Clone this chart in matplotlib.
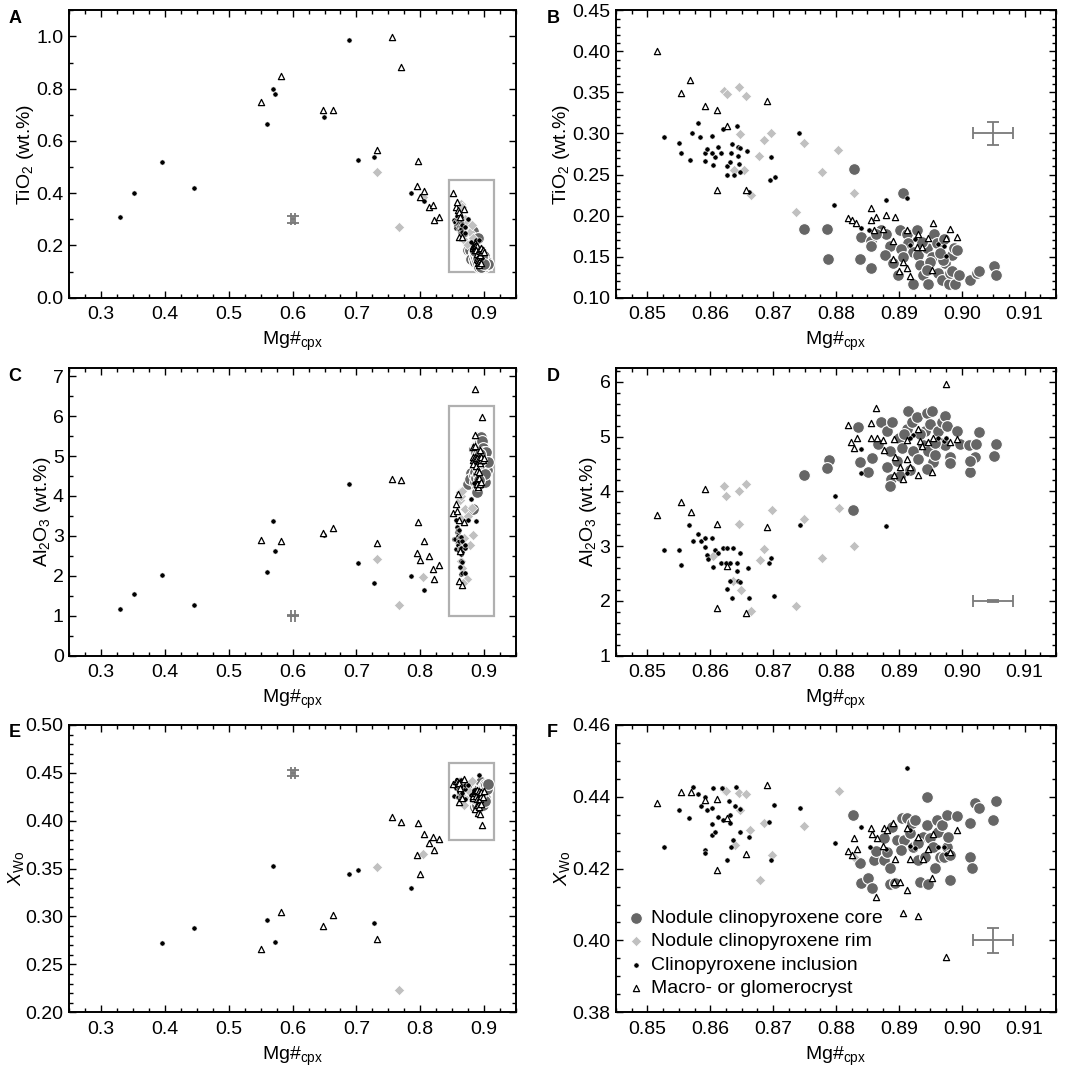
import numpy as np
import matplotlib
matplotlib.use("Agg")
import matplotlib.pyplot as plt
from matplotlib.ticker import MultipleLocator, FormatStrFormatter

plt.rcParams['font.family'] = ['Liberation Sans', 'DejaVu Sans']
plt.rcParams['mathtext.fontset'] = 'custom'
plt.rcParams['mathtext.rm'] = 'Liberation Sans'
plt.rcParams['mathtext.it'] = 'Liberation Sans:italic'
plt.rcParams['font.size'] = 14

nan = np.nan

# ---- low Mg# samples (only in A, C, E) ----
incl_mg = [0.329, 0.351, 0.395, 0.445, 0.560, 0.570, 0.573, 0.649, 0.689, 0.703, 0.728, 0.786, 0.806]
incl_ti = [0.308, 0.402, 0.521, 0.421, 0.665, 0.797, 0.778, 0.693, 0.985, 0.526, 0.540, 0.400, 0.370]
incl_al = [1.16, 1.55, 2.01, 1.27, 2.09, 3.38, 2.62, 3.03, 4.31, 2.32, 1.81, 2.00, 1.64]
incl_wo = [nan, nan, 0.272, 0.288, 0.296, 0.353, 0.273, nan, 0.344, 0.349, 0.293, 0.330, nan]

macro_mg = [0.551, 0.581, 0.648, 0.663, 0.755, 0.770, 0.732, 0.796, 0.795, 0.806, 0.800, 0.813, 0.820, 0.822, 0.830]
macro_ti = [0.748, 0.849, 0.719, 0.719, 0.997, 0.882, 0.567, 0.522, 0.427, 0.409, 0.384, 0.347, 0.356, 0.296, 0.309]
macro_al = [2.89, 2.88, 3.08, 3.19, 4.43, 4.39, 2.83, 3.35, 2.58, 2.88, 2.40, 2.50, 2.17, 1.91, 2.27]
macro_wo = [0.266, 0.305, 0.290, 0.302, 0.404, 0.399, 0.277, 0.398, 0.364, 0.386, 0.344, 0.377, 0.383, 0.369, 0.381]

rim_mg = [0.732, 0.766, 0.804]
rim_ti = [0.483, 0.269, 0.385]
rim_al = [2.42, 1.27, 1.97]
rim_wo = [0.352, 0.223, 0.365]

# macrocryst above the D window, shown only in C
macro_hi_mg = [0.886]
macro_hi_al = [6.69]

# ---- high Mg# samples: TiO2 (B) ----
core_mg_ti = [0.8828, 0.8749, 0.8786, 0.8788, 0.8838, 0.8856, 0.8906, 0.8839, 0.8855, 0.8855,
              0.8871, 0.8880, 0.8886, 0.8878, 0.8891, 0.8899, 0.8901, 0.8913, 0.8929, 0.8915,
              0.8923, 0.8931, 0.8934, 0.8922, 0.8939, 0.8945, 0.8953, 0.8950, 0.8956, 0.8960,
              0.8963, 0.8969, 0.8971, 0.8974, 0.8980, 0.8981, 0.8984, 0.8987, 0.8992, 0.8985,
              0.8989, 0.9013, 0.9025, 0.9028, 0.9051, 0.9055, 0.8937, 0.8903, 0.8906, 0.8945,
              0.8970, 0.8864, 0.8966, 0.8946, 0.8995]
core_ti = [0.257, 0.184, 0.184, 0.147, 0.147, 0.136, 0.228, 0.174, 0.169, 0.163,
           0.182, 0.178, 0.163, 0.152, 0.142, 0.128, 0.182, 0.178, 0.182, 0.166,
           0.156, 0.152, 0.140, 0.117, 0.128, 0.160, 0.150, 0.144, 0.178, 0.166,
           0.130, 0.121, 0.172, 0.142, 0.117, 0.130, 0.152, 0.160, 0.158, 0.132,
           0.117, 0.121, 0.130, 0.132, 0.138, 0.128, 0.168, 0.159, 0.150, 0.134,
           0.146, 0.178, 0.155, 0.117, 0.128]

rim_mg_ti = [0.8622, 0.8626, 0.8646, 0.8656, 0.8647, 0.8685, 0.8697, 0.8678, 0.8749, 0.8777,
             0.8803, 0.8737, 0.8664, 0.8829, 0.8637, 0.8653]
rim_ti2 = [0.352, 0.348, 0.357, 0.346, 0.299, 0.292, 0.301, 0.272, 0.289, 0.253,
           0.280, 0.204, 0.225, 0.228, 0.255, 0.255]

incl_mg_ti = [0.8526, 0.8550, 0.8554, 0.8567, 0.8571, 0.8580, 0.8584, 0.8591, 0.8592, 0.8595,
              0.8603, 0.8604, 0.8607, 0.8603, 0.8612, 0.8617, 0.8620, 0.8627, 0.8626, 0.8631,
              0.8633, 0.8635, 0.8637, 0.8643, 0.8644, 0.8644, 0.8645, 0.8648, 0.8647, 0.8659,
              0.8661, 0.8695, 0.8697, 0.8703, 0.8741, 0.8797, 0.8879, 0.8913, 0.8840, 0.8853,
              0.8918, 0.8926, 0.8963, 0.8971, 0.8975]
incl_ti2 = [0.296, 0.289, 0.276, 0.268, 0.301, 0.313, 0.296, 0.276, 0.267, 0.281,
            0.297, 0.261, 0.271, 0.276, 0.284, 0.276, 0.305, 0.250, 0.260, 0.265,
            0.276, 0.287, 0.250, 0.309, 0.284, 0.272, 0.263, 0.253, 0.282, 0.279,
            0.229, 0.243, 0.271, 0.247, 0.301, 0.213, 0.219, 0.222, 0.185, 0.183,
            0.164, 0.171, 0.165, 0.163, 0.151]

macro_mg_ti = [0.8515, 0.8554, 0.8568, 0.8591, 0.8611, 0.8626, 0.8611, 0.8656, 0.8690, 0.8855,
               0.8819, 0.8826, 0.8832, 0.8855, 0.8864, 0.8879, 0.8894, 0.8860, 0.8875, 0.8913,
               0.8891, 0.8890, 0.8907, 0.8900, 0.8913, 0.8917, 0.8931, 0.8929, 0.8937, 0.8947,
               0.8954, 0.8953, 0.8975, 0.8982, 0.8993]
macro_ti2 = [0.400, 0.349, 0.365, 0.334, 0.329, 0.309, 0.231, 0.231, 0.339, 0.209,
             0.197, 0.194, 0.191, 0.194, 0.198, 0.201, 0.198, 0.182, 0.184, 0.182,
             0.169, 0.147, 0.144, 0.132, 0.136, 0.126, 0.178, 0.162, 0.162, 0.173,
             0.191, 0.134, 0.173, 0.184, 0.174]

# ---- high Mg# samples: Al2O3 (D) ----
core_mg_al = [0.8827, 0.8749, 0.8789, 0.8786, 0.8835, 0.8838, 0.8851, 0.8857, 0.8872, 0.8881,
              0.8886, 0.8881, 0.8889, 0.8888, 0.8886, 0.8900, 0.8897, 0.8905, 0.8902, 0.8913,
              0.8915, 0.8921, 0.8923, 0.8929, 0.8931, 0.8938, 0.8942, 0.8944, 0.8947, 0.8950,
              0.8952, 0.8955, 0.8944, 0.8957, 0.8963, 0.8965, 0.8968, 0.8973, 0.8973, 0.8977,
              0.8981, 0.8982, 0.8992, 0.8997, 0.9012, 0.9013, 0.9021, 0.9028, 0.9023, 0.9051,
              0.9054, 0.9013, 0.8957, 0.8867, 0.8918, 0.8908, 0.8934]
core_al = [3.66, 4.30, 4.57, 4.42, 5.18, 4.53, 4.36, 4.61, 5.26, 5.11,
           4.74, 4.45, 5.26, 4.22, 4.10, 4.98, 4.56, 4.80, 4.28, 5.14,
           5.47, 5.26, 4.74, 5.36, 4.59, 4.85, 5.11, 5.44, 4.74, 5.23,
           5.47, 4.53, 4.41, 4.67, 5.11, 4.89, 5.26, 5.38, 4.85, 5.20,
           4.62, 4.51, 5.11, 4.86, 4.84, 4.36, 4.62, 5.09, 4.86, 4.65,
           4.86, 4.56, 4.89, 4.86, 4.39, 5.04, 5.04]

rim_mg_al = [0.8621, 0.8625, 0.8645, 0.8656, 0.8646, 0.8679, 0.8685, 0.8698, 0.8749, 0.8777,
             0.8804, 0.8736, 0.8664, 0.8828, 0.8649, 0.8604, 0.8636]
rim_al2 = [4.10, 3.91, 4.01, 4.13, 3.41, 2.75, 2.95, 3.66, 3.49, 2.78,
           3.69, 1.91, 1.82, 3.01, 2.20, 2.81, 2.37]

incl_mg_al = [0.8526, 0.8550, 0.8554, 0.8566, 0.8572, 0.8581, 0.8585, 0.8591, 0.8592, 0.8595,
              0.8603, 0.8604, 0.8607, 0.8596, 0.8612, 0.8617, 0.8620, 0.8627, 0.8625, 0.8631,
              0.8632, 0.8634, 0.8636, 0.8642, 0.8643, 0.8644, 0.8647, 0.8647, 0.8627, 0.8660,
              0.8661, 0.8694, 0.8697, 0.8702, 0.8742, 0.8798, 0.8879, 0.8840, 0.8840, 0.8913,
              0.8923, 0.8918, 0.8963, 0.8971, 0.8975]
incl_al2 = [2.93, 2.92, 2.66, 3.39, 3.09, 3.22, 3.09, 2.99, 3.15, 2.84,
            3.15, 2.61, 2.93, 2.76, 2.87, 2.70, 2.96, 2.96, 2.70, 2.36,
            2.70, 2.05, 2.96, 2.70, 2.54, 2.37, 2.87, 2.34, 2.22, 2.60,
            2.06, 2.69, 2.78, 2.08, 3.39, 3.92, 3.37, 4.77, 4.33, 4.33,
            5.03, 4.97, 4.97, 4.92, 4.98]

macro_mg_al = [0.8515, 0.8554, 0.8569, 0.8591, 0.8611, 0.8611, 0.8626, 0.8656, 0.8690, 0.8975,
               0.8863, 0.8819, 0.8856, 0.8824, 0.8834, 0.8829, 0.8855, 0.8865, 0.8875, 0.8876,
               0.8893, 0.8894, 0.8892, 0.8901, 0.8907, 0.8913, 0.8917, 0.8913, 0.8931, 0.8933,
               0.8936, 0.8930, 0.8952, 0.8947, 0.8954, 0.8982, 0.8993]
macro_al2 = [3.56, 3.80, 3.63, 4.04, 3.40, 1.87, 2.63, 1.78, 3.34, 5.97,
             5.53, 5.22, 5.25, 4.91, 4.97, 4.79, 4.97, 4.97, 4.94, 4.76,
             4.95, 4.62, 4.30, 4.45, 4.22, 4.59, 4.45, 4.94, 5.14, 4.92,
             4.83, 4.30, 4.36, 4.91, 4.97, 4.91, 4.95]

# ---- high Mg# samples: X_Wo (F) ----
core_mg_wo = [0.8827, 0.8838, 0.8839, 0.8851, 0.8857, 0.8860, 0.8863, 0.8876, 0.8876, 0.8881,
              0.8886, 0.8886, 0.8889, 0.8894, 0.8897, 0.8905, 0.8908, 0.8913, 0.8918, 0.8921,
              0.8923, 0.8926, 0.8931, 0.8934, 0.8939, 0.8942, 0.8944, 0.8944, 0.8947, 0.8950,
              0.8955, 0.8957, 0.8960, 0.8963, 0.8965, 0.8968, 0.8971, 0.8976, 0.8976, 0.8978,
              0.8981, 0.8981, 0.8993, 0.9013, 0.9013, 0.9016, 0.9021, 0.9028, 0.9050, 0.9054,
              0.8903, 0.8931]
core_wo = [0.4349, 0.4215, 0.4159, 0.4173, 0.4145, 0.4224, 0.4250, 0.4224, 0.4284, 0.4247,
           0.4201, 0.4157, 0.4317, 0.4159, 0.4280, 0.4340, 0.4280, 0.4340, 0.4298, 0.4326,
           0.4261, 0.4336, 0.4224, 0.4164, 0.4289, 0.4233, 0.4400, 0.4322, 0.4157, 0.4284,
           0.4261, 0.4201, 0.4336, 0.4303, 0.4233, 0.4322, 0.4233, 0.4349, 0.4261, 0.4289,
           0.4168, 0.4238, 0.4347, 0.4326, 0.4233, 0.4201, 0.4382, 0.4368, 0.4336, 0.4387,
           0.4252, 0.4270]

rim_mg_wo = [0.8622, 0.8625, 0.8645, 0.8656, 0.8648, 0.8663, 0.8685, 0.8698, 0.8749, 0.8679,
             0.8804, 0.8639, 0.8828]
rim_wo2 = [0.4419, 0.4417, 0.4410, 0.4408, 0.4363, 0.4308, 0.4326, 0.4238, 0.4319, 0.4168,
           0.4417, 0.4266, 0.4232]

incl_mg_wo = [0.8526, 0.8550, 0.8566, 0.8572, 0.8581, 0.8585, 0.8591, 0.8592, 0.8592, 0.8595,
              0.8603, 0.8604, 0.8603, 0.8603, 0.8607, 0.8612, 0.8618, 0.8620, 0.8626, 0.8629,
              0.8631, 0.8632, 0.8633, 0.8636, 0.8639, 0.8641, 0.8647, 0.8648, 0.8661, 0.8694,
              0.8697, 0.8702, 0.8742, 0.8798, 0.8840, 0.8854, 0.8879, 0.8913, 0.8918, 0.8917,
              0.8925, 0.8963, 0.8971, 0.8975]
incl_wo2 = [0.4261, 0.4363, 0.4340, 0.4426, 0.4408, 0.4373, 0.4399, 0.4252, 0.4243, 0.4363,
            0.4368, 0.4424, 0.4323, 0.4294, 0.4303, 0.4343, 0.4424, 0.4336, 0.4224, 0.4389,
            0.4349, 0.4326, 0.4261, 0.4280, 0.4373, 0.4426, 0.4303, 0.4365, 0.4289, 0.4329,
            0.4224, 0.4377, 0.4370, 0.4271, 0.4317, 0.4261, 0.4254, 0.4481, 0.4308, 0.4263,
            0.4257, 0.4261, 0.4261, 0.4241]

macro_mg_wo = [0.8515, 0.8554, 0.8569, 0.8591, 0.8611, 0.8611, 0.8626, 0.8656, 0.8690, 0.8819,
               0.8825, 0.8829, 0.8834, 0.8855, 0.8857, 0.8865, 0.8863, 0.8875, 0.8876, 0.8881,
               0.8891, 0.8892, 0.8894, 0.8901, 0.8907, 0.8913, 0.8913, 0.8917, 0.8930, 0.8931,
               0.8938, 0.8947, 0.8952, 0.8955, 0.8975, 0.8982, 0.8993]
macro_wo2 = [0.4382, 0.4412, 0.4414, 0.4391, 0.4394, 0.4196, 0.4340, 0.4240, 0.4433, 0.4249,
             0.4238, 0.4286, 0.4254, 0.4312, 0.4296, 0.4286, 0.4122, 0.4263, 0.4312, 0.4308,
             0.4326, 0.4164, 0.4226, 0.4164, 0.4076, 0.4141, 0.4312, 0.4226, 0.4068, 0.4289,
             0.4226, 0.4254, 0.4175, 0.4296, 0.3955, 0.4247, 0.4308]

# analytical uncertainty shown as a cross
err_mg = 0.0032
err_ti = 0.0137
err_al = 0.015
err_wo = 0.0034

labels = ['Nodule clinopyroxene core', 'Nodule clinopyroxene rim',
          'Clinopyroxene inclusion', 'Macro- or glomerocryst']

CORE = '#666666'
RIM = '#c0c0c0'
ERR = '#7a7a7a'
BOX = '#b0b0b0'


def scatter_groups(ax, core, rim, incl, macro):
    ax.scatter(core[0], core[1], s=72, c=CORE, edgecolors='white', linewidths=0.8, zorder=2, label=labels[0])
    ax.scatter(rim[0], rim[1], s=28, marker='D', c=RIM, edgecolors='white', linewidths=0.5, zorder=3, label=labels[1])
    ax.scatter(incl[0], incl[1], s=14, c='black', edgecolors='white', linewidths=0.4, zorder=4, label=labels[2])
    ax.scatter(macro[0], macro[1], s=20, marker='^', facecolors='white', edgecolors='black', linewidths=0.9, zorder=5, label=labels[3])


def style(ax, xlim, ylim, xmaj, xmin, ymaj, ymin, xfmt, yfmt, ylabel):
    ax.set_xlim(xlim)
    ax.set_ylim(ylim)
    ax.xaxis.set_major_locator(MultipleLocator(xmaj))
    ax.xaxis.set_minor_locator(MultipleLocator(xmin))
    ax.yaxis.set_major_locator(MultipleLocator(ymaj))
    ax.yaxis.set_minor_locator(MultipleLocator(ymin))
    ax.xaxis.set_major_formatter(FormatStrFormatter(xfmt))
    ax.yaxis.set_major_formatter(FormatStrFormatter(yfmt))
    ax.tick_params(which='both', direction='in', top=True, right=True, width=1.0, labelsize=14)
    ax.tick_params(which='major', length=5)
    ax.tick_params(which='minor', length=3)
    ax.tick_params(axis='x', which='major', pad=6)
    ax.tick_params(axis='y', which='major', pad=4)
    for sp in ax.spines.values():
        sp.set_linewidth(1.4)
    ax.set_xlabel(r'Mg#$_\mathregular{cpx}$', fontsize=14, labelpad=5)
    ax.set_ylabel(ylabel, fontsize=14, labelpad=0)


def error_cross(ax, x, y, yerr):
    ax.errorbar([x], [y], xerr=err_mg, yerr=yerr, fmt='none', ecolor=ERR, elinewidth=1.3,
                capsize=4.5, capthick=1.3, zorder=6)


def zoom_box(ax, y0, y1):
    ax.add_patch(plt.Rectangle((0.845, y0), 0.07, y1 - y0, fill=False, edgecolor=BOX, linewidth=1.6, zorder=1))


fig = plt.figure(figsize=(10.84, 10.68), dpi=100)
lx, lw = 0.0639, 0.4121
rx, rw = 0.5683, 0.4059
rows = [0.7213, 0.3862, 0.0522]
h = 0.269

axA = fig.add_axes([lx, rows[0], lw, h])
axB = fig.add_axes([rx, rows[0], rw, h])
axC = fig.add_axes([lx, rows[1], lw, h])
axD = fig.add_axes([rx, rows[1], rw, h])
axE = fig.add_axes([lx, rows[2], lw, h])
axF = fig.add_axes([rx, rows[2], rw, h])

ti_lab = r'TiO$_\mathregular{2}$ (wt.%)'
al_lab = r'Al$_\mathregular{2}$O$_\mathregular{3}$ (wt.%)'
wo_lab = r'$\mathit{X}_\mathregular{Wo}$'

# A
scatter_groups(axA, (core_mg_ti, core_ti), (rim_mg + rim_mg_ti, rim_ti + rim_ti2),
               (incl_mg + incl_mg_ti, incl_ti + incl_ti2), (macro_mg + macro_mg_ti, macro_ti + macro_ti2))
zoom_box(axA, 0.10, 0.45)
error_cross(axA, 0.60, 0.30, err_ti)
style(axA, (0.25, 0.95), (0.0, 1.1), 0.1, 0.025, 0.2, 0.1, '%.1f', '%.1f', ti_lab)

# B
scatter_groups(axB, (core_mg_ti, core_ti), (rim_mg_ti, rim_ti2), (incl_mg_ti, incl_ti2), (macro_mg_ti, macro_ti2))
error_cross(axB, 0.905, 0.30, err_ti)
style(axB, (0.845, 0.915), (0.10, 0.45), 0.01, 0.0025, 0.05, 0.01, '%.2f', '%.2f', ti_lab)

# C
scatter_groups(axC, (core_mg_al, core_al), (rim_mg + rim_mg_al, rim_al + rim_al2),
               (incl_mg + incl_mg_al, incl_al + incl_al2),
               (macro_mg + macro_mg_al + macro_hi_mg, macro_al + macro_al2 + macro_hi_al))
zoom_box(axC, 1.0, 6.25)
error_cross(axC, 0.60, 1.0, err_al)
style(axC, (0.25, 0.95), (0.0, 7.2), 0.1, 0.025, 1, 0.5, '%.1f', '%d', al_lab)

# D
scatter_groups(axD, (core_mg_al, core_al), (rim_mg_al, rim_al2), (incl_mg_al, incl_al2), (macro_mg_al, macro_al2))
error_cross(axD, 0.905, 2.0, err_al)
style(axD, (0.845, 0.915), (1.0, 6.25), 0.01, 0.0025, 1, 0.2, '%.2f', '%d', al_lab)

# E
scatter_groups(axE, (core_mg_wo, core_wo), (rim_mg + rim_mg_wo, rim_wo + rim_wo2),
               (incl_mg + incl_mg_wo, incl_wo + incl_wo2), (macro_mg + macro_mg_wo, macro_wo + macro_wo2))
zoom_box(axE, 0.38, 0.46)
error_cross(axE, 0.60, 0.45, err_wo)
style(axE, (0.25, 0.95), (0.20, 0.50), 0.1, 0.025, 0.05, 0.01, '%.1f', '%.2f', wo_lab)

# F
scatter_groups(axF, (core_mg_wo, core_wo), (rim_mg_wo, rim_wo2), (incl_mg_wo, incl_wo2), (macro_mg_wo, macro_wo2))
error_cross(axF, 0.905, 0.40, err_wo)
style(axF, (0.845, 0.915), (0.38, 0.46), 0.01, 0.0025, 0.02, 0.005, '%.2f', '%.2f', wo_lab)
axF.legend(loc='lower left', bbox_to_anchor=(0.01, 0.025), frameon=False, fontsize=14,
           handlelength=0.8, handletextpad=0.35, labelspacing=0.3, borderaxespad=0.2,
           borderpad=0.2, scatterpoints=1)

for ax, letter in zip([axA, axB, axC, axD, axE, axF], 'ABCDEF'):
    bb = ax.get_position()
    px = 0.008 if bb.x0 < 0.5 else 0.5046
    fig.text(px, bb.y1 + 0.0005, letter, fontsize=13, fontweight='bold', va='top', ha='left')

fig.savefig('out.png', dpi=100)
